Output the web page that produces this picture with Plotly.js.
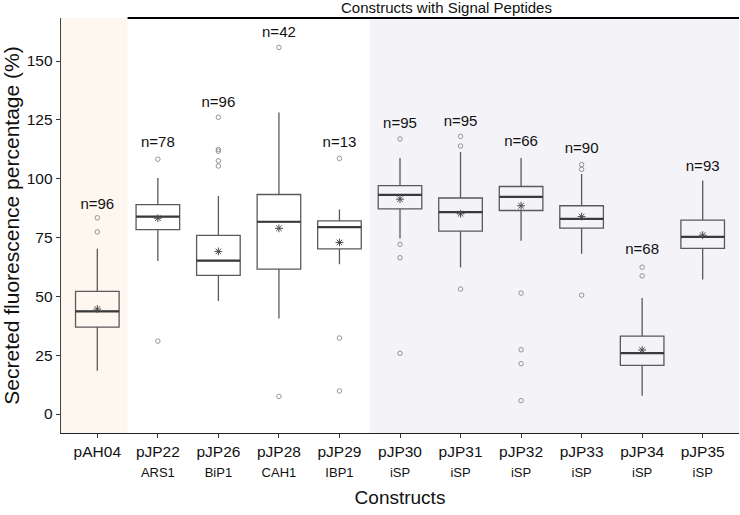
<!DOCTYPE html>
<html>
<head>
<meta charset="utf-8">
<script src="https://cdn.plot.ly/plotly-3.0.1.min.js"></script>
<style>html,body{margin:0;padding:0;background:#fff;}#chart{width:740px;height:515px;}</style>
</head>
<body>
<div id="chart"></div>
<script>
const constructs = ['pAH04','pJP22','pJP26','pJP28','pJP29','pJP30','pJP31','pJP32','pJP33','pJP34','pJP35'];
const signalPeptides = ['','ARS1','BiP1','CAH1','IBP1','iSP','iSP','iSP','iSP','iSP','iSP'];
const sampleN = [96,78,96,42,13,95,95,66,90,68,93];
const lowerWhisker = [18.4,65.0,48.0,40.6,63.6,74.6,62.3,73.6,68.1,7.8,57.2];
const q1 = [36.9,78.4,58.9,61.6,70.2,87.2,77.7,86.5,79.0,20.7,70.4];
const median = [43.6,83.9,65.2,81.7,79.4,93.1,85.8,92.3,82.9,25.9,75.3];
const q3 = [52.1,89.0,75.9,93.3,82.1,97.1,91.8,96.7,88.5,33.1,82.4];
const upperWhisker = [70.2,100.3,92.6,128.1,86.9,108.8,111.4,108.8,102.0,49.3,99.2];
const means = [44.6,83.2,69.1,78.9,72.9,91.3,85.1,88.5,83.9,27.2,76.0];
const nLabelY = [88.7,115.2,132.1,161.9,115.2,123.1,124.1,115.4,112.5,69.6,105.0];
const outlierConstruct = ['pAH04','pAH04','pJP22','pJP22','pJP26','pJP26','pJP26','pJP26','pJP26','pJP28','pJP28','pJP29','pJP29','pJP29','pJP30','pJP30','pJP30','pJP30','pJP31','pJP31','pJP31','pJP32','pJP32','pJP32','pJP32','pJP33','pJP33','pJP33','pJP34','pJP34'];
const outlierValue = [83.4,77.4,108.3,31.0,126.1,112.4,111.7,107.6,105.4,155.8,7.5,108.6,32.3,9.8,116.9,72.1,66.4,25.8,118.0,113.9,53.1,51.4,27.3,21.4,5.7,106.0,104.0,50.5,62.4,58.7];
const yTicks = [0,25,50,75,100,125,150];
const groupLabel = 'Constructs with Signal Peptides';

const tickText = constructs.map((c,i) => signalPeptides[i] ? c + '<br><span style="font-size:13px">' + signalPeptides[i] + '</span>' : c + '<br> ');

const boxTrace = {
  type: 'box', x: constructs, q1: q1, median: median, q3: q3,
  lowerfence: lowerWhisker, upperfence: upperWhisker,
  boxpoints: false, width: 0.72, whiskerwidth: 0,
  line: {color: '#5a5a5a', width: 1.3}, fillcolor: 'rgba(0,0,0,0)',
  hoverinfo: 'skip', showlegend: false
};
const medianTrace = {
  type: 'box', x: constructs, q1: median, median: median, q3: median,
  lowerfence: median, upperfence: median,
  boxpoints: false, width: 0.72, whiskerwidth: 0,
  line: {color: '#3a3a3a', width: 2.2}, fillcolor: 'rgba(0,0,0,0)',
  hoverinfo: 'skip', showlegend: false
};
const outlierTrace = {
  type: 'scatter', mode: 'markers', x: outlierConstruct, y: outlierValue,
  marker: {symbol: 'circle-open', size: 4.5, color: '#8a8a8a', line: {width: 0.9, color: '#8a8a8a'}},
  hoverinfo: 'skip', showlegend: false
};
const meanTrace = {
  type: 'scatter', mode: 'markers', x: constructs, y: means,
  marker: {symbol: 'asterisk-open', size: 6.5, color: '#4a4a4a', line: {width: 1, color: '#4a4a4a'}},
  hoverinfo: 'skip', showlegend: false
};
const nTrace = {
  type: 'scatter', mode: 'text', x: constructs, y: nLabelY,
  text: sampleN.map(n => 'n=' + n), textposition: 'middle center',
  textfont: {family: 'Liberation Sans, Arial, sans-serif', size: 15, color: '#111'},
  hoverinfo: 'skip', showlegend: false, cliponaxis: false
};

const layout = {
  width: 740, height: 515,
  margin: {l: 61, r: 1, t: 17.5, b: 82},
  paper_bgcolor: '#fff', plot_bgcolor: '#fff',
  boxmode: 'overlay',
  font: {family: 'Liberation Sans, Arial, sans-serif', color: '#111'},
  xaxis: {
    type: 'category', range: [-0.6, 10.6],
    tickmode: 'array', tickvals: constructs, ticktext: tickText,
    tickfont: {size: 15.5, color: '#111'},
    showline: true, linecolor: '#222', linewidth: 1.3,
    ticks: 'outside', ticklen: 4, tickcolor: '#333', tickwidth: 1,
    showgrid: false, zeroline: false, automargin: false,
    title: {text: 'Constructs', font: {size: 19, color: '#111'}, standoff: 11}
  },
  yaxis: {
    range: [-8.07, 168.3],
    tickmode: 'array', tickvals: yTicks,
    tickfont: {size: 15.5, color: '#111'},
    showline: true, linecolor: '#444', linewidth: 1.3,
    ticks: 'outside', ticklen: 4, tickcolor: '#333', tickwidth: 1,
    showgrid: false, zeroline: false, automargin: false,
    title: {text: 'Secreted fluorescence percentage (%)', font: {size: 21, color: '#111'}, standoff: 10}
  },
  shapes: [
    {type: 'rect', layer: 'below', xref: 'x', yref: 'paper', x0: -0.6, x1: 0.5, y0: 0, y1: 1, fillcolor: '#fdf7f0', line: {width: 0}},
    {type: 'rect', layer: 'below', xref: 'x', yref: 'paper', x0: 4.5, x1: 10.6, y0: 0, y1: 1, fillcolor: '#f3f3f8', line: {width: 0}},
    {type: 'line', layer: 'above', xref: 'x', yref: 'paper', x0: 0.5, x1: 10.6, y0: 1, y1: 1, line: {color: '#000', width: 2}}
  ],
  annotations: [
    {text: groupLabel, xref: 'x', yref: 'paper', x: 5.77, y: 1, yanchor: 'bottom', xanchor: 'center', yshift: 0,
     showarrow: false, font: {size: 15, color: '#111'}}
  ]
};

Plotly.newPlot('chart', [boxTrace, medianTrace, outlierTrace, meanTrace, nTrace], layout, {displayModeBar: false, staticPlot: true});
</script>
</body>
</html>
